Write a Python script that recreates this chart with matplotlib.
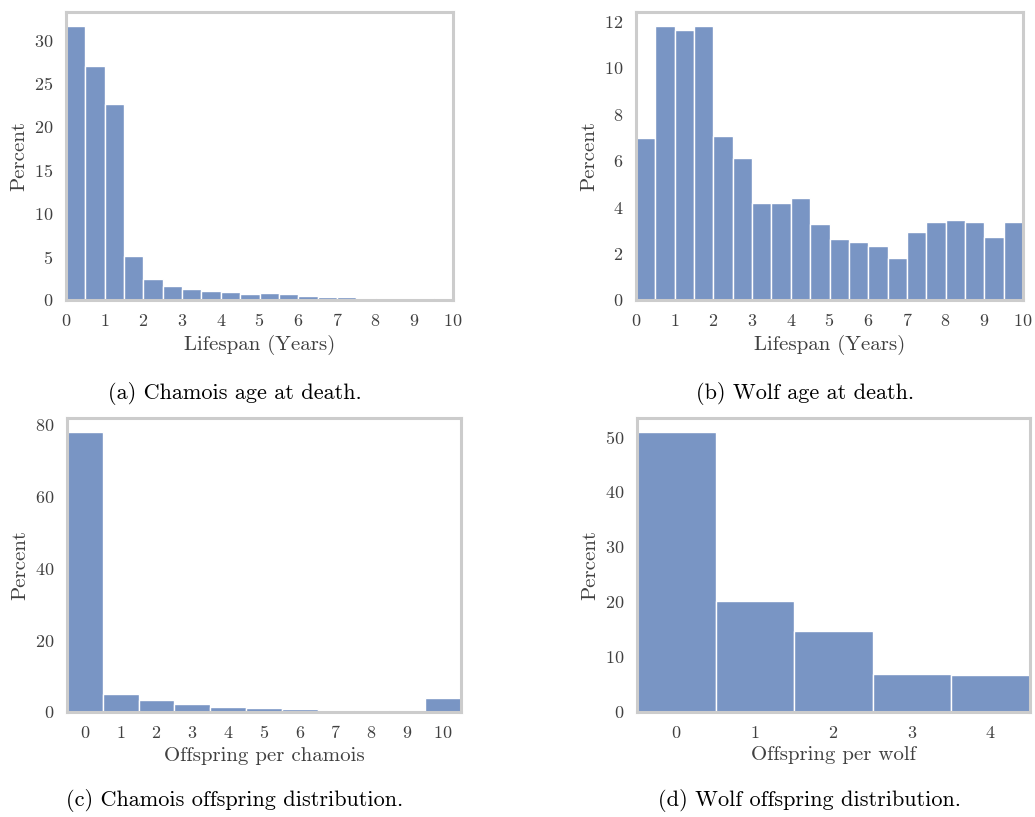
import numpy as np
import matplotlib
matplotlib.use("Agg")
import matplotlib.pyplot as plt

# ---- data ----
chamois_age_bin_edges = [i * 0.5 for i in range(21)]
chamois_age_percent = [31.67, 27.06, 22.6, 5.11, 2.4, 1.63, 1.28, 1.05, 0.93, 0.7,
                       0.81, 0.66, 0.5, 0.35, 0.35, 0.23, 0.03, 0.03, 0.03, 0.23]

wolf_age_bin_edges = [i * 0.5 for i in range(21)]
wolf_age_percent = [6.95, 11.8, 11.6, 11.8, 7.05, 6.13, 4.18, 4.18, 4.37, 3.25,
                    2.64, 2.51, 2.32, 1.80, 2.94, 3.36, 3.45, 3.36, 2.73, 3.36]

chamois_offspring = list(range(11))
chamois_offspring_percent = [77.96, 5.14, 3.27, 2.15, 1.4, 1.21, 0.75, 0.65, 0.47, 0.37, 3.92]

wolf_offspring = list(range(5))
wolf_offspring_percent = [50.9, 20.24, 14.76, 6.89, 6.7]

captions = ["(a) Chamois age at death.", "(b) Wolf age at death.",
            "(c) Chamois offspring distribution.", "(d) Wolf offspring distribution."]
xlabels = ["Lifespan (Years)", "Lifespan (Years)", "Offspring per chamois", "Offspring per wolf"]

# ---- style ----
plt.rcParams['font.family'] = ['cmr10', 'DejaVu Serif']
plt.rcParams['axes.formatter.use_mathtext'] = True
plt.rcParams['axes.unicode_minus'] = False

BAR = (0x79 / 255, 0x95 / 255, 0xc4 / 255)
SPINE = '#cccccc'
TXT = '#404040'

W, H = 1035, 817
fig = plt.figure(figsize=(W / 100, H / 100), dpi=100)


def px_axes(l, t, r, b):
    return fig.add_axes([l / W, 1 - b / H, (r - l) / W, (b - t) / H])


axes = [px_axes(66, 12, 453, 300), px_axes(636, 12, 1023, 300),
        px_axes(67, 418, 461, 712), px_axes(637, 418, 1030, 712)]


def style(ax, xlabel):
    for s in ax.spines.values():
        s.set_color(SPINE)
        s.set_linewidth(2.2)
    ax.tick_params(length=0, labelsize=13, colors=TXT, pad=9)
    ax.set_ylabel("Percent", fontsize=15, color=TXT, labelpad=4)
    ax.set_xlabel(xlabel, fontsize=15, color=TXT, labelpad=4)
    ax.grid(False)


# (a)
ax = axes[0]
ax.bar(chamois_age_bin_edges[:-1], chamois_age_percent, width=np.diff(chamois_age_bin_edges),
       align='edge', color=BAR, edgecolor='white', linewidth=1)
ax.set_xlim(0, 10)
ax.set_xticks(range(0, 11))
ax.set_yticks([0, 5, 10, 15, 20, 25, 30])

# (b)
ax = axes[1]
ax.bar(wolf_age_bin_edges[:-1], wolf_age_percent, width=np.diff(wolf_age_bin_edges),
       align='edge', color=BAR, edgecolor='white', linewidth=1)
ax.set_xlim(0, 10)
ax.set_xticks(range(0, 11))
ax.set_yticks([0, 2, 4, 6, 8, 10, 12])

# (c)
ax = axes[2]
ax.bar(chamois_offspring, chamois_offspring_percent, width=1.0,
       color=BAR, edgecolor='white', linewidth=1)
ax.set_xlim(-0.5, 10.5)
ax.set_xticks(chamois_offspring)
ax.set_yticks([0, 20, 40, 60, 80])

# (d)
ax = axes[3]
ax.bar(wolf_offspring, wolf_offspring_percent, width=1.0,
       color=BAR, edgecolor='white', linewidth=1)
ax.set_xlim(-0.5, 4.5)
ax.set_xticks(wolf_offspring)
ax.set_yticks([0, 10, 20, 30, 40, 50])

for ax, xl in zip(axes, xlabels):
    style(ax, xl)
    ax.margins(y=0.05)

caption_pos = [(235, 393), (805, 393), (235, 801), (810, 801)]
for (cx, cy), cap in zip(caption_pos, captions):
    fig.text(cx / W, 1 - cy / H, cap, ha='center', va='center', fontsize=16, color='black')

fig.savefig("out.png", dpi=100)
